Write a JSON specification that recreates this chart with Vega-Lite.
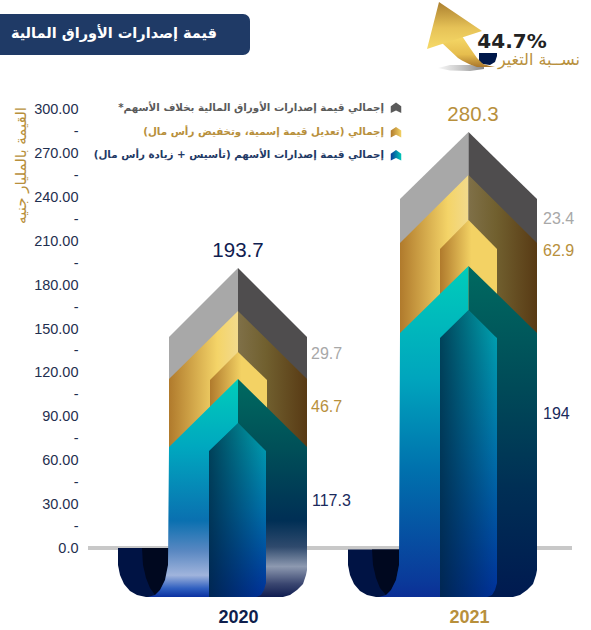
{
"$schema":"https://vega.github.io/schema/vega-lite/v6.json",
"width":591,"height":630,"padding":0,"autosize":{"type":"none"},"background":"#ffffff",
"config":{"view":{"stroke":null}},
"datasets":{
"parts":[
{"part":"greyL","year":2020,"x":31,"y":144.5,"y2":100},{"part":"greyL","year":2020,"x":100,"y":191.8,"y2":100},
{"part":"greyR","year":2020,"x":100,"y":191.8,"y2":100},{"part":"greyR","year":2020,"x":169,"y":144.5,"y2":100},
{"part":"goldL","year":2020,"x":31,"y":115.8,"y2":50},{"part":"goldL","year":2020,"x":100,"y":162.3,"y2":50},
{"part":"goldR","year":2020,"x":100,"y":162.3,"y2":50},{"part":"goldR","year":2020,"x":169,"y":115.8,"y2":50},
{"part":"innerGold","year":2020,"x":72,"y":115.1,"y2":60},{"part":"innerGold","year":2020,"x":100,"y":134.2,"y2":60},{"part":"innerGold","year":2020,"x":129,"y":115.1,"y2":60},
{"part":"greyL","year":2021,"x":262,"y":239.0,"y2":200},{"part":"greyL","year":2021,"x":330.5,"y":284.9,"y2":200},
{"part":"greyR","year":2021,"x":330.5,"y":284.9,"y2":200},{"part":"greyR","year":2021,"x":399,"y":239.0,"y2":200},
{"part":"goldL","year":2021,"x":262,"y":208.9,"y2":120},{"part":"goldL","year":2021,"x":330.5,"y":255.5,"y2":120},
{"part":"goldR","year":2021,"x":330.5,"y":255.5,"y2":120},{"part":"goldR","year":2021,"x":399,"y":208.9,"y2":120},
{"part":"innerGold","year":2021,"x":302,"y":204.8,"y2":130},{"part":"innerGold","year":2021,"x":330.5,"y":224.7,"y2":130},{"part":"innerGold","year":2021,"x":359,"y":204.8,"y2":130},
{"part":"hook","year":2020,"x":-20,"y":0,"y2":-11.6},{"part":"hook","year":2020,"x":-18,"y":0,"y2":-18.5},{"part":"hook","year":2020,"x":-14,"y":0,"y2":-24.7},{"part":"hook","year":2020,"x":-8,"y":0,"y2":-29.5},{"part":"hook","year":2020,"x":-1,"y":0,"y2":-32.2},{"part":"hook","year":2020,"x":8,"y":0,"y2":-33.6},{"part":"hook","year":2020,"x":31,"y":0,"y2":-33.6},
{"part":"hook","year":2021,"x":210,"y":-1,"y2":-11.6},{"part":"hook","year":2021,"x":212,"y":-1,"y2":-18.5},{"part":"hook","year":2021,"x":216,"y":-1,"y2":-24.7},{"part":"hook","year":2021,"x":222,"y":-1,"y2":-29.5},{"part":"hook","year":2021,"x":229,"y":-1,"y2":-32.2},{"part":"hook","year":2021,"x":238,"y":-1,"y2":-33.6},{"part":"hook","year":2021,"x":262,"y":-1,"y2":-33.6},
{"part":"crescent","year":2020,"x":4,"y":0,"y2":0},{"part":"crescent","year":2020,"x":5,"y":0,"y2":-11.6},{"part":"crescent","year":2020,"x":8,"y":0,"y2":-20.5},{"part":"crescent","year":2020,"x":12,"y":0,"y2":-27.4},{"part":"crescent","year":2020,"x":17,"y":0,"y2":-32.2},{"part":"crescent","year":2020,"x":22,"y":0,"y2":-28.8},{"part":"crescent","year":2020,"x":27,"y":0,"y2":-21.9},{"part":"crescent","year":2020,"x":30,"y":0,"y2":-11.6},{"part":"crescent","year":2020,"x":31,"y":0,"y2":0},
{"part":"crescent","year":2021,"x":234,"y":-1,"y2":-1},{"part":"crescent","year":2021,"x":235,"y":-1,"y2":-11.6},{"part":"crescent","year":2021,"x":238,"y":-1,"y2":-20.5},{"part":"crescent","year":2021,"x":242,"y":-1,"y2":-27.4},{"part":"crescent","year":2021,"x":248,"y":-1,"y2":-32.2},{"part":"crescent","year":2021,"x":253,"y":-1,"y2":-28.8},{"part":"crescent","year":2021,"x":258,"y":-1,"y2":-21.9},{"part":"crescent","year":2021,"x":261,"y":-1,"y2":-11.6},{"part":"crescent","year":2021,"x":262,"y":-1,"y2":-1},
{"part":"bodyL20","year":2020,"x":10,"y":-33.6,"y2":-33.6},{"part":"bodyL20","year":2020,"x":17,"y":-32.2,"y2":-33.6},{"part":"bodyL20","year":2020,"x":22,"y":-28.8,"y2":-33.6},{"part":"bodyL20","year":2020,"x":27,"y":-21.9,"y2":-33.6},{"part":"bodyL20","year":2020,"x":30,"y":-11.6,"y2":-33.6},{"part":"bodyL20","year":2020,"x":31,"y":69.2,"y2":-33.6},{"part":"bodyL20","year":2020,"x":100,"y":115.8,"y2":-33.6},
{"part":"bodyR20","year":2020,"x":100,"y":115.8,"y2":-33.6},{"part":"bodyR20","year":2020,"x":145,"y":85.4,"y2":-33.6},{"part":"bodyR20","year":2020,"x":152,"y":80.7,"y2":-32.2},{"part":"bodyR20","year":2020,"x":159,"y":76.0,"y2":-28.8},{"part":"bodyR20","year":2020,"x":165,"y":71.9,"y2":-24.7},{"part":"bodyR20","year":2020,"x":168,"y":69.9,"y2":-18.5},{"part":"bodyR20","year":2020,"x":169,"y":69.2,"y2":-15.1},
{"part":"bodyL21","year":2021,"x":241,"y":-33.6,"y2":-33.6},{"part":"bodyL21","year":2021,"x":248,"y":-32.2,"y2":-33.6},{"part":"bodyL21","year":2021,"x":253,"y":-28.8,"y2":-33.6},{"part":"bodyL21","year":2021,"x":258,"y":-21.9,"y2":-33.6},{"part":"bodyL21","year":2021,"x":261,"y":-11.6,"y2":-33.6},{"part":"bodyL21","year":2021,"x":262,"y":147.3,"y2":-33.6},{"part":"bodyL21","year":2021,"x":330.5,"y":193.2,"y2":-33.6},
{"part":"bodyR21","year":2021,"x":330.5,"y":193.2,"y2":-33.6},{"part":"bodyR21","year":2021,"x":375,"y":163.4,"y2":-33.6},{"part":"bodyR21","year":2021,"x":382,"y":158.7,"y2":-32.2},{"part":"bodyR21","year":2021,"x":389,"y":154.0,"y2":-28.8},{"part":"bodyR21","year":2021,"x":395,"y":150.0,"y2":-24.7},{"part":"bodyR21","year":2021,"x":398,"y":147.9,"y2":-18.5},{"part":"bodyR21","year":2021,"x":399,"y":147.3,"y2":-15.1},
{"part":"inner","year":2020,"x":71,"y":66.4,"y2":-33.6},{"part":"inner","year":2020,"x":100,"y":85.6,"y2":-33.6},{"part":"inner","year":2020,"x":118,"y":73.3,"y2":-33.6},{"part":"inner","year":2020,"x":123,"y":69.8,"y2":-32.2},{"part":"inner","year":2020,"x":126,"y":67.8,"y2":-28.8},{"part":"inner","year":2020,"x":128,"y":66.4,"y2":-24.0},
{"part":"inner","year":2021,"x":302,"y":143.8,"y2":-33.6},{"part":"inner","year":2021,"x":330.5,"y":163.0,"y2":-33.6},{"part":"inner","year":2021,"x":349,"y":150.5,"y2":-33.6},{"part":"inner","year":2021,"x":354,"y":147.1,"y2":-32.2},{"part":"inner","year":2021,"x":357,"y":145.1,"y2":-28.8},{"part":"inner","year":2021,"x":359,"y":143.8,"y2":-24.0},
{"part":"shadow","year":0,"x":300,"y":328.8,"y2":328.8},{"part":"shadow","year":0,"x":312,"y":330.8,"y2":327.1},{"part":"shadow","year":0,"x":332,"y":330.8,"y2":326.7},{"part":"shadow","year":0,"x":346,"y":330.1,"y2":328.1},
{"part":"navy","year":0,"x":341,"y":339.0,"y2":332.9},{"part":"navy","year":0,"x":345,"y":339.0,"y2":331.5},{"part":"navy","year":0,"x":352,"y":339.0,"y2":330.8},{"part":"navy","year":0,"x":357,"y":339.0,"y2":332.9},{"part":"navy","year":0,"x":359,"y":339.0,"y2":337.0},
{"part":"shaft","year":0,"x":304,"y":345.9,"y2":345.9},{"part":"shaft","year":0,"x":320,"y":350,"y2":335.6},{"part":"shaft","year":0,"x":324,"y":350.7,"y2":333.9},{"part":"shaft","year":0,"x":332,"y":342.5,"y2":331.2},{"part":"shaft","year":0,"x":339,"y":335.6,"y2":329.5},{"part":"shaft","year":0,"x":345,"y":331.5,"y2":329.5},{"part":"shaft","year":0,"x":352,"y":330.1,"y2":329.5},{"part":"shaft","year":0,"x":357,"y":330.1,"y2":330.1},
{"part":"head","year":0,"x":289,"y":341.8,"y2":341.8},{"part":"head","year":0,"x":301,"y":374.0,"y2":344.5},{"part":"head","year":0,"x":344,"y":354.1,"y2":354.1}
],
"baseline":[{"x":-50,"x2":434,"y":0}],
"banner":[{"x":-160,"x2":112,"y":365.8,"y2":337.7}],
"titleText":[{"x":79,"y":352,"label":"قيمة إصدارات الأوراق المالية"}],
"values":[
{"year":2020,"series":"total","value":193.7,"x":100,"y":203.4,"label":"193.7"},
{"year":2021,"series":"total21","value":280.3,"x":335,"y":296.6,"label":"280.3"}
],
"segments":[
{"year":2020,"series":"other","value":29.7,"x":173,"y":132.9},
{"year":2020,"series":"capital","value":46.7,"x":173,"y":96.6},
{"year":2020,"series":"shares","value":117.3,"x":174,"y":32.2},
{"year":2021,"series":"other","value":23.4,"x":405,"y":225.3},
{"year":2021,"series":"capital","value":62.9,"x":405,"y":203.4},
{"year":2021,"series":"shares","value":194,"x":405,"y":91.8}
],
"legendRows":[
{"series":"other","x":246,"y":301.5,"icon":258,"label":"إجمالي قيمة إصدارات الأوراق المالية بخلاف الأسهم*‏"},
{"series":"capital","x":246,"y":284.8,"icon":258,"label":"إجمالي (تعديل قيمة إسمية، وتخفيض رأس مال)‏"},
{"series":"shares","x":246,"y":269,"icon":258,"label":"إجمالي قيمة إصدارات الأسهم (تأسيس + زيادة رأس مال)‏"}
],
"change":[{"x":374,"y":346.6,"label":"44.7%"}],
"changeLabel":[{"x":442,"y":334.2,"label":"نســبة التغير"}]
},
"encoding":{
"x":{"field":"x","type":"quantitative","scale":{"domain":[-138,453],"range":[0,591],"nice":false,"zero":false},
 "axis":{"values":[100,331],"labelExpr":"datum.value==100?'2020':'2021'","title":null,"grid":false,"domain":false,"ticks":false,"orient":"bottom","offset":-22,"labelPadding":0,"labelFont":"Liberation Sans","labelFontWeight":"bold","labelFontSize":18,"labelColor":{"condition":{"test":"datum.value==100","value":"#0f1f4d"},"value":"#b8903c"},"labelBaseline":"top"}},
"y":{"field":"y","type":"quantitative","scale":{"domain":[-56.16,375.34],"range":[630,0],"nice":false,"zero":false},
 "axis":{"values":[0,15,30,45,60,75,90,105,120,135,150,165,180,195,210,225,240,255,270,285,300],"labelExpr":"datum.value==0?'0.0':(datum.value%30==0?format(datum.value,'.2f'):'-')","labelOverlap":false,"labelFlush":false,"grid":false,"domain":false,"ticks":false,"offset":-78,"labelPadding":0,"labelFont":"Liberation Sans","labelFontSize":14.5,"labelColor":"#1f2f4f",
 "title":"القيمة بالمليار جنيه","titleFont":"DejaVu Sans","titleFontSize":15,"titleFontWeight":"normal","titleColor":"#b8903c","titleAngle":-90,"titleX":-58,"titleY":165,"titleAlign":"center","titleBaseline":"middle"}}
},
"layer":[
{"data":{"name":"baseline"},"mark":{"type":"rule","stroke":"#c8c8c8","strokeWidth":4},"encoding":{"x2":{"field":"x2"}}},
{"data":{"name":"parts"},"transform":[{"filter":"datum.part=='greyL'"}],"mark":{"type":"area","orient":"vertical","fill":"#a8a8a8"},"encoding":{"y2":{"field":"y2"},"detail":{"field":"year"}}},
{"data":{"name":"parts"},"transform":[{"filter":"datum.part=='greyR'"}],"mark":{"type":"area","orient":"vertical","fill":"#4f4d4e"},"encoding":{"y2":{"field":"y2"},"detail":{"field":"year"}}},
{"data":{"name":"parts"},"transform":[{"filter":"datum.part=='goldL'"}],"mark":{"type":"area","orient":"vertical","fill":{"gradient":"linear","x1":0,"y1":0,"x2":1,"y2":0,"stops":[{"offset":0,"color":"#b07a2c"},{"offset":0.7,"color":"#f4d468"},{"offset":1,"color":"#f2da8c"}]}},"encoding":{"y2":{"field":"y2"},"detail":{"field":"year"}}},
{"data":{"name":"parts"},"transform":[{"filter":"datum.part=='goldR'"}],"mark":{"type":"area","orient":"vertical","fill":{"gradient":"linear","x1":0,"y1":0,"x2":1,"y2":0,"stops":[{"offset":0,"color":"#7f7048"},{"offset":0.4,"color":"#71602f"},{"offset":1,"color":"#583a14"}]}},"encoding":{"y2":{"field":"y2"},"detail":{"field":"year"}}},
{"data":{"name":"parts"},"transform":[{"filter":"datum.part=='innerGold'"}],"mark":{"type":"area","orient":"vertical","fill":{"gradient":"linear","x1":0,"y1":0,"x2":1,"y2":0,"stops":[{"offset":0,"color":"#b07a2c"},{"offset":0.55,"color":"#f3d264"},{"offset":1,"color":"#f3d264"}]}},"encoding":{"y2":{"field":"y2"},"detail":{"field":"year"}}},
{"data":{"name":"parts"},"transform":[{"filter":"datum.part=='hook'"}],"mark":{"type":"area","orient":"vertical","fill":"#001344"},"encoding":{"y2":{"field":"y2"},"detail":{"field":"year"}}},
{"data":{"name":"parts"},"transform":[{"filter":"datum.part=='crescent'"}],"mark":{"type":"area","orient":"vertical","fill":"#00081f"},"encoding":{"y2":{"field":"y2"},"detail":{"field":"year"}}},
{"data":{"name":"parts"},"transform":[{"filter":"datum.part=='bodyL20'"}],"mark":{"type":"area","orient":"vertical","fill":{"gradient":"linear","x1":0,"y1":0,"x2":0,"y2":1,"stops":[{"offset":0,"color":"#00cdbb"},{"offset":0.31,"color":"#00a8bf"},{"offset":0.65,"color":"#0a70b0"},{"offset":0.79,"color":"#5a88c2"},{"offset":0.9,"color":"#a0b4dc"},{"offset":0.96,"color":"#3060c0"},{"offset":1,"color":"#0a30a0"}]}},"encoding":{"y2":{"field":"y2"}}},
{"data":{"name":"parts"},"transform":[{"filter":"datum.part=='bodyR20'"}],"mark":{"type":"area","orient":"vertical","fill":{"gradient":"linear","x1":0,"y1":0,"x2":0,"y2":1,"stops":[{"offset":0,"color":"#006a60"},{"offset":0.31,"color":"#005058"},{"offset":0.65,"color":"#002f55"},{"offset":0.77,"color":"#2f4a6d"},{"offset":0.86,"color":"#8d99b0"},{"offset":0.94,"color":"#3a4670"},{"offset":1,"color":"#0f1c50"}]}},"encoding":{"y2":{"field":"y2"}}},
{"data":{"name":"parts"},"transform":[{"filter":"datum.part=='bodyL21'"}],"mark":{"type":"area","orient":"vertical","fill":{"gradient":"linear","x1":0,"y1":0,"x2":0,"y2":1,"stops":[{"offset":0,"color":"#00cdbb"},{"offset":0.34,"color":"#00a5bd"},{"offset":0.62,"color":"#0070ad"},{"offset":0.95,"color":"#0a3a9a"},{"offset":1,"color":"#0c2f96"}]}},"encoding":{"y2":{"field":"y2"}}},
{"data":{"name":"parts"},"transform":[{"filter":"datum.part=='bodyR21'"}],"mark":{"type":"area","orient":"vertical","fill":{"gradient":"linear","x1":0,"y1":0,"x2":0,"y2":1,"stops":[{"offset":0,"color":"#006a60"},{"offset":0.37,"color":"#004a58"},{"offset":0.67,"color":"#002f55"},{"offset":1,"color":"#001a50"}]}},"encoding":{"y2":{"field":"y2"}}},
{"data":{"name":"parts"},"transform":[{"filter":"datum.part=='inner'"}],"mark":{"type":"area","orient":"vertical","fill":{"gradient":"linear","x1":0,"y1":0,"x2":0,"y2":1,"stops":[{"offset":0,"color":"#00a8b0"},{"offset":0.5,"color":"#0070aa"},{"offset":1,"color":"#00309a"}]}},"encoding":{"y2":{"field":"y2"},"detail":{"field":"year"}}},
{"data":{"name":"parts"},"transform":[{"filter":"datum.part=='inner'"}],"mark":{"type":"area","orient":"vertical","fill":{"gradient":"linear","x1":0,"y1":0,"x2":1,"y2":0,"stops":[{"offset":0,"color":"rgba(0,35,60,0.75)"},{"offset":1,"color":"rgba(0,35,60,0)"}]}},"encoding":{"y2":{"field":"y2"},"detail":{"field":"year"}}},
{"data":{"name":"parts"},"transform":[{"filter":"datum.part=='shadow'"}],"mark":{"type":"area","orient":"vertical","fill":{"gradient":"linear","x1":0,"y1":0,"x2":1,"y2":0,"stops":[{"offset":0,"color":"rgba(170,170,170,0.1)"},{"offset":1,"color":"#858585"}]}},"encoding":{"y2":{"field":"y2"}}},
{"data":{"name":"parts"},"transform":[{"filter":"datum.part=='navy'"}],"mark":{"type":"area","orient":"vertical","fill":"#00184a"},"encoding":{"y2":{"field":"y2"}}},
{"data":{"name":"parts"},"transform":[{"filter":"datum.part=='shaft'"}],"mark":{"type":"area","orient":"vertical","fill":{"gradient":"linear","x1":0,"y1":0,"x2":0,"y2":1,"stops":[{"offset":0,"color":"#f6d968"},{"offset":0.6,"color":"#e6bd4e"},{"offset":1,"color":"#a9762b"}]}},"encoding":{"y2":{"field":"y2"}}},
{"data":{"name":"parts"},"transform":[{"filter":"datum.part=='head'"}],"mark":{"type":"area","orient":"vertical","fill":{"gradient":"linear","x1":0,"y1":0,"x2":0,"y2":1,"stops":[{"offset":0,"color":"#ab7f2f"},{"offset":0.55,"color":"#e6c257"},{"offset":1,"color":"#f6da68"}]}},"encoding":{"y2":{"field":"y2"}}},
{"data":{"name":"banner"},"mark":{"type":"rect","fill":"#1f3a66","cornerRadius":7},"encoding":{"x2":{"field":"x2"},"y2":{"field":"y2"}}},
{"data":{"name":"titleText"},"mark":{"type":"text","align":"right","baseline":"middle","font":"DejaVu Sans","fontWeight":"bold","fontSize":14.5,"fill":"#ffffff"},"encoding":{"text":{"field":"label"}}},
{"data":{"name":"change"},"mark":{"type":"text","align":"center","baseline":"middle","font":"DejaVu Sans","fontWeight":"bold","fontSize":20,"fill":"#222222"},"encoding":{"text":{"field":"label"}}},
{"data":{"name":"changeLabel"},"mark":{"type":"text","align":"right","baseline":"middle","font":"DejaVu Sans","fontSize":16,"fill":"#b8903c"},"encoding":{"text":{"field":"label"}}},
{"data":{"name":"values"},"mark":{"type":"text","align":"center","baseline":"middle","font":"Liberation Sans","fontSize":20.5},"encoding":{"text":{"field":"label"},"color":{"field":"year","type":"nominal","scale":{"domain":[2020,2021],"range":["#0f2050","#b8903c"]},"legend":null}}},
{"data":{"name":"segments"},"mark":{"type":"text","align":"left","baseline":"middle","font":"Liberation Sans","fontSize":16},"encoding":{"text":{"field":"value","type":"quantitative"},"fill":{"field":"series","type":"nominal","scale":{"domain":["other","capital","shares"],"range":["#a8a8a8","#b8903c","#1a2a5c"]},"legend":null}}},
{"data":{"name":"legendRows"},"mark":{"type":"text","align":"right","baseline":"middle","font":"DejaVu Sans","fontWeight":"bold","fontSize":10.3},"encoding":{"text":{"field":"label"},"fill":{"field":"series","type":"nominal","scale":{"domain":["other","capital","shares"],"range":["#5a5a5a","#b8903c","#1f3a66"]},"legend":null}}},
{"data":{"name":"legendRows"},"transform":[{"filter":"datum.series=='other'"}],"mark":{"type":"point","filled":true,"size":110,"opacity":1,"shape":"M0,-1 L1,-0.3 L1,1 L0,0.5 L-1,1 L-1,-0.3 Z","fill":"#5b5b5b"},"encoding":{"x":{"field":"icon","type":"quantitative"}}},
{"data":{"name":"legendRows"},"transform":[{"filter":"datum.series=='capital'"}],"mark":{"type":"point","filled":true,"size":110,"opacity":1,"shape":"M0,-1 L1,-0.3 L1,1 L0,0.5 L-1,1 L-1,-0.3 Z","fill":{"gradient":"linear","x1":0,"y1":0,"x2":1,"y2":0,"stops":[{"offset":0,"color":"#b07a2c"},{"offset":1,"color":"#f3d264"}]}},"encoding":{"x":{"field":"icon","type":"quantitative"}}},
{"data":{"name":"legendRows"},"transform":[{"filter":"datum.series=='shares'"}],"mark":{"type":"point","filled":true,"size":110,"opacity":1,"shape":"M0,-1 L1,-0.3 L1,1 L0,0.5 L-1,1 L-1,-0.3 Z","fill":{"gradient":"linear","x1":0,"y1":0,"x2":1,"y2":0,"stops":[{"offset":0,"color":"#0a3a9a"},{"offset":1,"color":"#00c8b8"}]}},"encoding":{"x":{"field":"icon","type":"quantitative"}}}
],
"resolve":{"scale":{"fill":"independent","color":"independent"}}
}
